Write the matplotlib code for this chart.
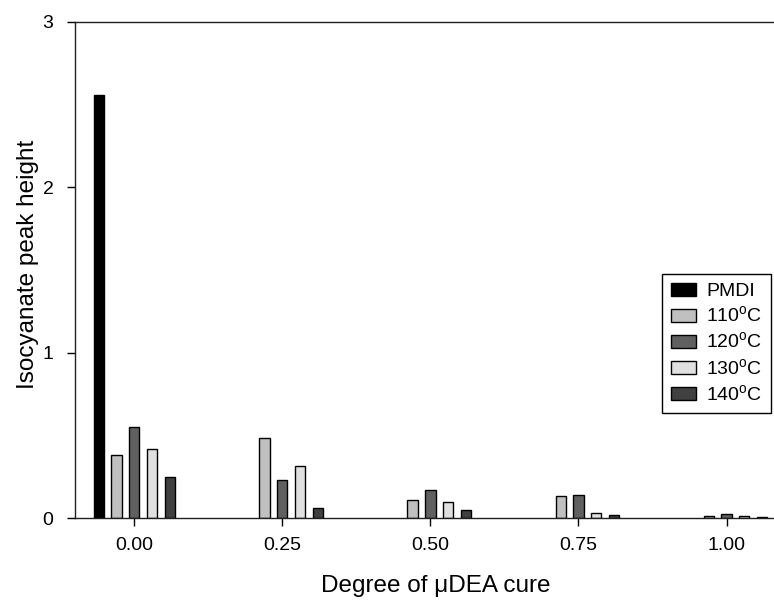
import numpy as np
import matplotlib.pyplot as plt

plt.rcParams['font.family'] = ['Liberation Sans', 'DejaVu Sans']
plt.rcParams['mathtext.fontset'] = 'custom'
plt.rcParams['mathtext.rm'] = 'Liberation Sans'

# degree of cure groups
cure = [0.00, 0.25, 0.50, 0.75, 1.00]

# isocyanate peak heights per series (PMDI only measured uncured)
pmdi = [2.56, 0, 0, 0, 0]
t110 = [0.38, 0.485, 0.107, 0.135, 0.015]
t120 = [0.55, 0.23, 0.17, 0.14, 0.027]
t130 = [0.42, 0.317, 0.097, 0.03, 0.012]
t140 = [0.25, 0.063, 0.048, 0.018, 0.008]

labels = ['PMDI', '110$^{\\rm o}$C', '120$^{\\rm o}$C', '130$^{\\rm o}$C', '140$^{\\rm o}$C']
colors = ['#000000', '#c0c0c0', '#606060', '#e0e0e0', '#404040']

fig = plt.figure(figsize=(7.74, 6.01), dpi=100)
ax = fig.add_axes([0.0969, 0.138, 0.903, 0.8256])

x = np.array(cure)
step = 0.03
width = 0.0175
series = [pmdi, t110, t120, t130, t140]
for i, (vals, lab, col) in enumerate(zip(series, labels, colors)):
    offset = (i - 2) * step
    xs = [xi + offset for xi, v in zip(x, vals) if v > 0]
    vs = [v for v in vals if v > 0]
    ax.bar(xs, vs, width=width, color=col, edgecolor='black', linewidth=1.0, label=lab)

ax.set_xlim(-0.1, 1.08)
ax.set_ylim(0, 3)
ax.set_xticks(cure)
ax.set_xticklabels([f'{c:.2f}' for c in cure])
ax.set_yticks([0, 1, 2, 3])

ax.spines['right'].set_visible(False)
for s in ['left', 'top', 'bottom']:
    ax.spines[s].set_linewidth(1.0)
    ax.spines[s].set_color('#202020')

ax.tick_params(axis='both', direction='out', length=5.5, width=1, labelsize=14)
ax.tick_params(axis='x', pad=8)
ax.tick_params(axis='y', pad=10)
ax.set_xlabel('Degree of μDEA cure', fontsize=17.5, labelpad=15)
ax.xaxis.label.set_x(0.516)
ax.set_ylabel('Isocyanate peak height', fontsize=17.5, labelpad=2.5)
ax.yaxis.label.set_y(0.512)

leg = ax.legend(loc='upper right', bbox_to_anchor=(0.9957, 0.492), borderaxespad=0,
                fontsize=14, fancybox=False, framealpha=1, edgecolor='black',
                handlelength=1.3, handleheight=0.67, handletextpad=0.5,
                labelspacing=0.28, borderpad=0.45)
leg.get_frame().set_linewidth(1.0)

fig.savefig('out.png', dpi=100)
